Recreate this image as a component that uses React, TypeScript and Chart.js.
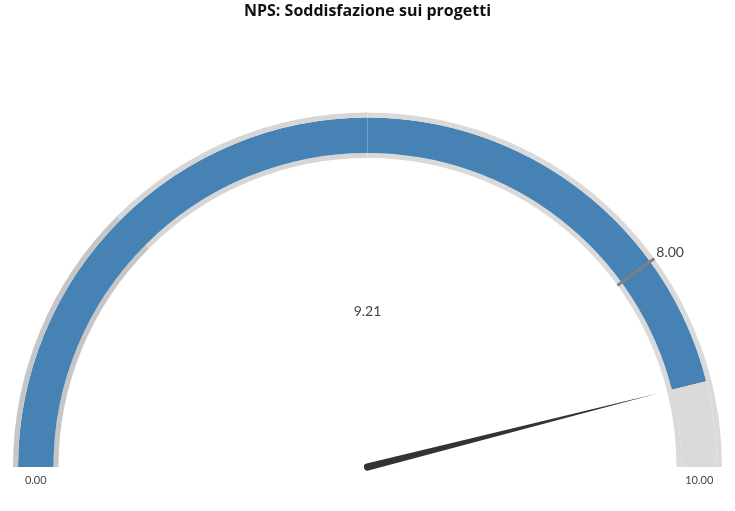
import React, { useEffect, useRef } from "react";
import { Chart, registerables } from "chart.js";

Chart.register(...registerables);

// ---- data ----
const chartTitle = "NPS: Soddisfazione sui progetti";
const gaugeMin = 0;
const gaugeMax = 10;
const gaugeValue = 9.21;
const targetValue = 8.0;
const bandLimits = [2.5, 5, 10];
const bandColors = ["#c6c6c6", "#d6d6d6", "#dadada"];
const valueSplits = [5];
const minLabel = "0.00";
const maxLabel = "10.00";
const valueLabel = "9.21";
const targetLabel = "8.00";

// ---- styles ----
const valueColor = "#4682b4";
const emptyColor = "#dadada";
const needleColor = "#333333";
const targetColor = "#808080";
const textColor = "#444444";
const fontFamily = "Lato, 'Open Sans', sans-serif";
const titleFamily = "'Open Sans', Lato, sans-serif";

function bandSizes(): number[] {
  const out: number[] = [];
  let prev = gaugeMin;
  for (const lim of bandLimits) {
    out.push(lim - prev);
    prev = lim;
  }
  return out;
}

function valueSizes(): number[] {
  const out: number[] = [];
  let prev = gaugeMin;
  for (const lim of [...valueSplits, gaugeMax]) {
    if (gaugeValue <= prev) break;
    const end = Math.min(lim, gaugeValue);
    out.push(end - prev);
    prev = lim;
  }
  out.push(gaugeMax - gaugeValue);
  return out;
}

const gaugePlugin = {
  id: "gaugeOverlay",
  afterDatasetsDraw(chart: any) {
    const ctx = chart.ctx as CanvasRenderingContext2D;
    const outerMeta = chart.getDatasetMeta(0);
    const valueMeta = chart.getDatasetMeta(1);
    const innerMeta = chart.getDatasetMeta(2);
    const first = outerMeta.data[0];
    const cx = first.x;
    const cy = first.y;
    const R = first.outerRadius;
    const r = innerMeta.data[0].innerRadius;
    const start = first.startAngle;
    const end = outerMeta.data[outerMeta.data.length - 1].endAngle;
    const toAngle = (v: number) =>
      start + ((v - gaugeMin) / (gaugeMax - gaugeMin)) * (end - start);

    ctx.save();

    // target marker
    const ta = toAngle(targetValue);
    const tc = Math.cos(ta);
    const ts = Math.sin(ta);
    ctx.strokeStyle = targetColor;
    ctx.lineWidth = 3;
    ctx.beginPath();
    ctx.moveTo(cx + r * tc, cy + r * ts);
    ctx.lineTo(cx + R * tc, cy + R * ts);
    ctx.stroke();

    ctx.fillStyle = textColor;
    ctx.font = `14px ${fontFamily}`;
    ctx.textAlign = "left";
    ctx.textBaseline = "middle";
    ctx.fillText(targetLabel, cx + R * tc + 2, cy + R * ts - 6);

    // value label
    ctx.textAlign = "center";
    ctx.fillText(valueLabel, cx, cy - 156);

    // min/max labels
    ctx.font = `11px ${fontFamily}`;
    const mid = (R + r) / 2;
    ctx.fillText(minLabel, cx - mid, cy + 13);
    ctx.fillText(maxLabel, cx + mid, cy + 13);

    // needle
    const blueArcs = valueMeta.data.slice(0, valueMeta.data.length - 1);
    const va = blueArcs[blueArcs.length - 1].endAngle;
    const L = r - 10;
    const vc = Math.cos(va);
    const vs = Math.sin(va);
    const hw = 3.6;
    ctx.fillStyle = needleColor;
    ctx.beginPath();
    ctx.moveTo(cx + L * vc, cy + L * vs);
    ctx.lineTo(cx - hw * vs, cy + hw * vc);
    ctx.arc(cx, cy, hw, va + Math.PI / 2, va - Math.PI / 2, false);
    ctx.closePath();
    ctx.fill();

    ctx.restore();
  },
};

export default function App() {
  const canvasRef = useRef<HTMLCanvasElement | null>(null);

  useEffect(() => {
    const canvas = canvasRef.current;
    if (!canvas) return;
    const bands = bandSizes();
    const vals = valueSizes();
    const valColors = vals.map((_, i) => (i < vals.length - 1 ? valueColor : emptyColor));

    const chart = new Chart(canvas, {
      type: "doughnut",
      data: {
        labels: bands.map((_, i) => `band${i}`),
        datasets: [
          {
            data: bands,
            backgroundColor: bandColors,
            borderWidth: 0,
            hoverOffset: 0,
            offset: 0,
            weight: 1,
          },
          {
            data: vals,
            backgroundColor: valColors,
            borderWidth: 0,
            hoverOffset: 0,
            offset: 0,
            weight: 7,
          },
          {
            data: bands,
            backgroundColor: bandColors,
            borderWidth: 0,
            hoverOffset: 0,
            offset: 0,
            weight: 1,
          },
        ],
      },
      options: {
        responsive: false,
        animation: false,
        events: [],
        rotation: -90,
        circumference: 180,
        radius: 354.5,
        cutout: "87.16%",
        layout: { padding: { left: 13, right: 13, top: 0, bottom: 44 } },
        plugins: {
          legend: { display: false },
          tooltip: { enabled: false },
          title: {
            display: true,
            text: chartTitle,
            color: "#111111",
            font: { family: titleFamily, size: 16, weight: "bold", lineHeight: 1.2 },
            padding: { top: 1.5, bottom: 91.8 },
          },
        },
      } as any,
      plugins: [gaugePlugin],
    });
    return () => chart.destroy();
  }, []);

  return (
    <div style={{ position: "fixed", left: 0, top: 0, width: 735, height: 511, background: "#ffffff" }}>
      <canvas ref={canvasRef} width={735} height={511} style={{ display: "block" }} />
    </div>
  );
}
